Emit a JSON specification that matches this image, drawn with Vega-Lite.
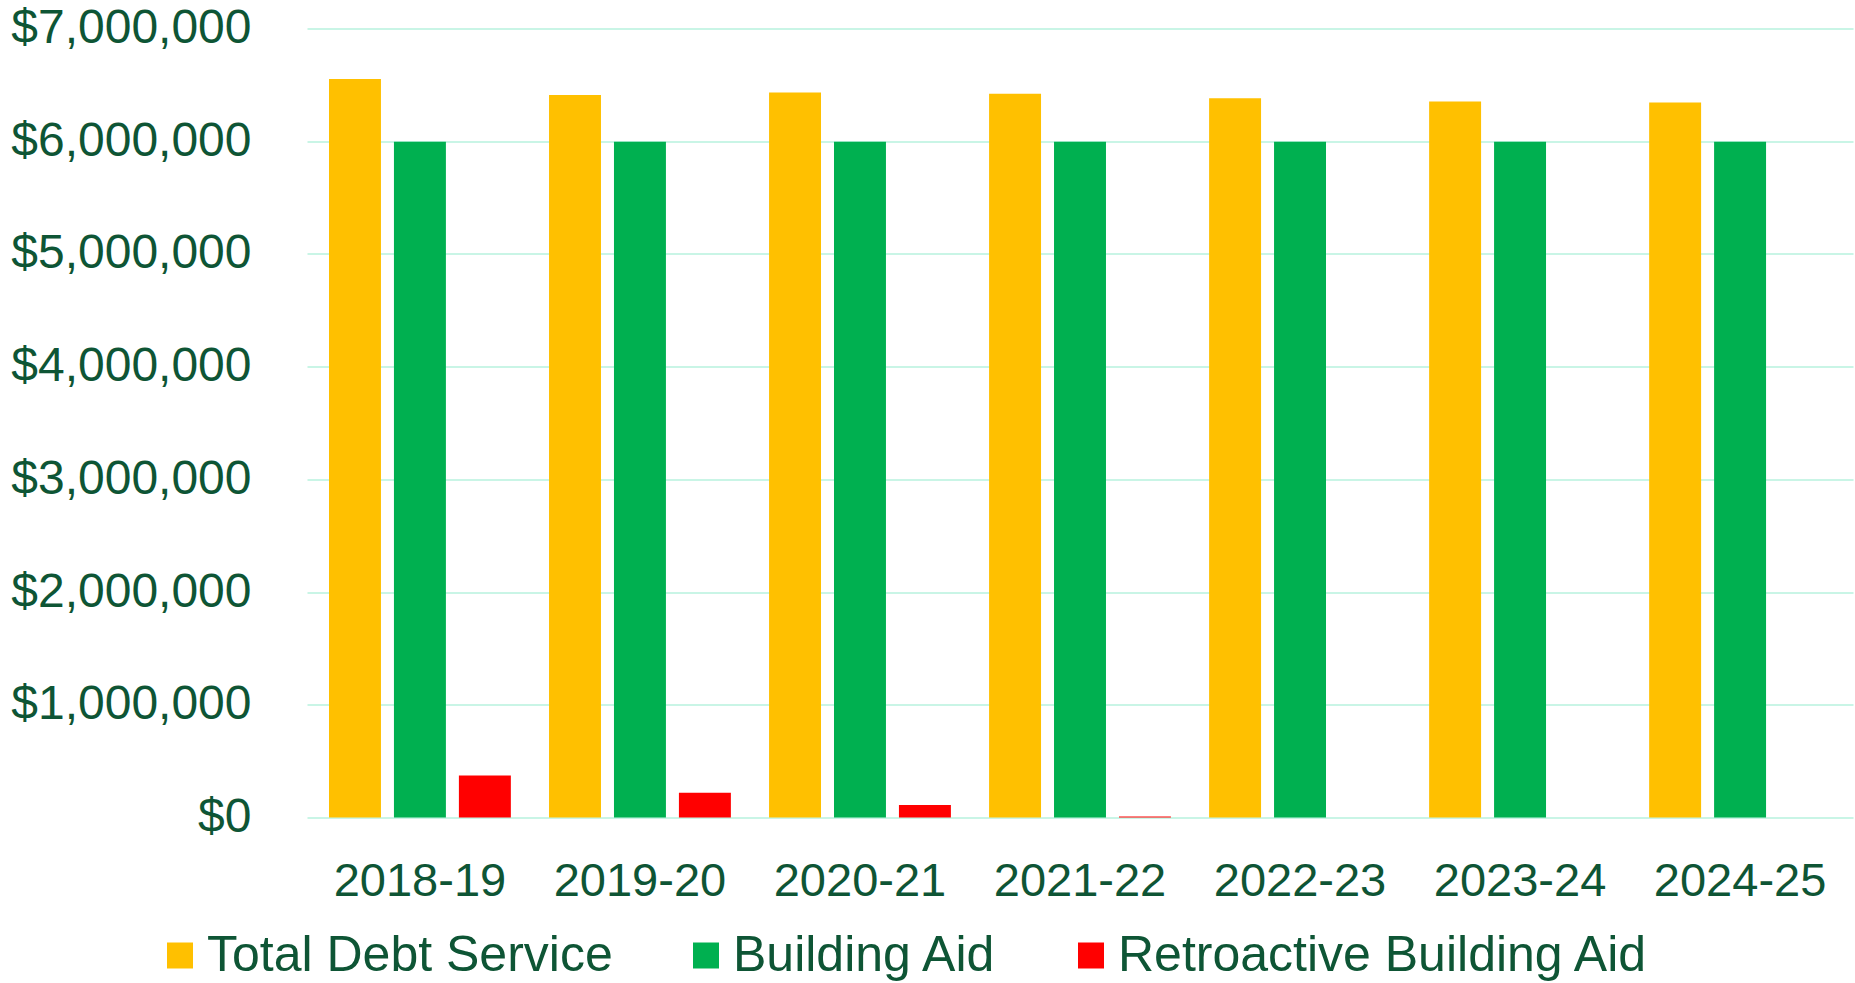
{
  "$schema": "https://vega.github.io/schema/vega-lite/v6.json",
  "autosize": "none",
  "width": 1546,
  "height": 789,
  "padding": {"left": 307, "top": 28.5, "right": 2, "bottom": 165.5},
  "background": "white",
  "data": {
    "values": [
      {"year": "2018-19", "series": "Total Debt Service", "value": 6551000},
      {"year": "2018-19", "series": "Building Aid", "value": 5995000},
      {"year": "2018-19", "series": "Retroactive Building Aid", "value": 373000},
      {"year": "2019-20", "series": "Total Debt Service", "value": 6409000},
      {"year": "2019-20", "series": "Building Aid", "value": 5995000},
      {"year": "2019-20", "series": "Retroactive Building Aid", "value": 219000},
      {"year": "2020-21", "series": "Total Debt Service", "value": 6432000},
      {"year": "2020-21", "series": "Building Aid", "value": 5995000},
      {"year": "2020-21", "series": "Retroactive Building Aid", "value": 110000},
      {"year": "2021-22", "series": "Total Debt Service", "value": 6421000},
      {"year": "2021-22", "series": "Building Aid", "value": 5995000},
      {"year": "2021-22", "series": "Retroactive Building Aid", "value": 8000},
      {"year": "2022-23", "series": "Total Debt Service", "value": 6382000},
      {"year": "2022-23", "series": "Building Aid", "value": 5995000},
      {"year": "2022-23", "series": "Retroactive Building Aid", "value": 0},
      {"year": "2023-24", "series": "Total Debt Service", "value": 6352000},
      {"year": "2023-24", "series": "Building Aid", "value": 5995000},
      {"year": "2023-24", "series": "Retroactive Building Aid", "value": 0},
      {"year": "2024-25", "series": "Total Debt Service", "value": 6343000},
      {"year": "2024-25", "series": "Building Aid", "value": 5995000},
      {"year": "2024-25", "series": "Retroactive Building Aid", "value": 0}
    ]
  },
  "mark": {"type": "bar"},
  "encoding": {
    "x": {
      "field": "year",
      "type": "nominal",
      "sort": null,
      "scale": {"paddingInner": 0.1735, "paddingOuter": 0.1},
      "axis": {
        "title": null,
        "labelAngle": 0,
        "labelFont": "Liberation Sans",
        "labelFontSize": 47,
        "labelColor": "#0E5535",
        "labelPadding": 41,
        "labelLimit": 0,
        "ticks": false,
        "domain": false,
        "grid": false
      }
    },
    "xOffset": {
      "field": "series",
      "type": "nominal",
      "sort": ["Total Debt Service", "Building Aid", "Retroactive Building Aid"],
      "scale": {"paddingInner": 0.2, "paddingOuter": 0}
    },
    "y": {
      "field": "value",
      "type": "quantitative",
      "scale": {"domain": [0, 7000000], "nice": false},
      "axis": {
        "title": null,
        "values": [0, 1000000, 2000000, 3000000, 4000000, 5000000, 6000000, 7000000],
        "format": "$,.0f",
        "labelFont": "Liberation Sans",
        "labelFontSize": 48,
        "labelColor": "#0E5535",
        "labelPadding": 56,
        "labelLimit": 0,
        "ticks": false,
        "domain": false,
        "grid": true,
        "gridColor": "#C9F5E6",
        "gridWidth": 2
      }
    },
    "color": {
      "field": "series",
      "type": "nominal",
      "sort": ["Total Debt Service", "Building Aid", "Retroactive Building Aid"],
      "scale": {
        "domain": ["Total Debt Service", "Building Aid", "Retroactive Building Aid"],
        "range": ["#FFC000", "#00B050", "#FF0000"]
      },
      "legend": {
        "title": null,
        "orient": "none",
        "direction": "horizontal",
        "legendX": -152,
        "legendY": 902,
        "padding": 0,
        "symbolType": "square",
        "symbolSize": 676,
        "symbolStrokeWidth": 0,
        "symbolOpacity": 1,
        "labelFont": "Liberation Sans",
        "labelFontSize": 50,
        "labelColor": "#0E5535",
        "labelOffset": 2,
        "labelLimit": 0,
        "columnPadding": 68
      }
    }
  },
  "config": {
    "view": {"stroke": null}
  }
}
